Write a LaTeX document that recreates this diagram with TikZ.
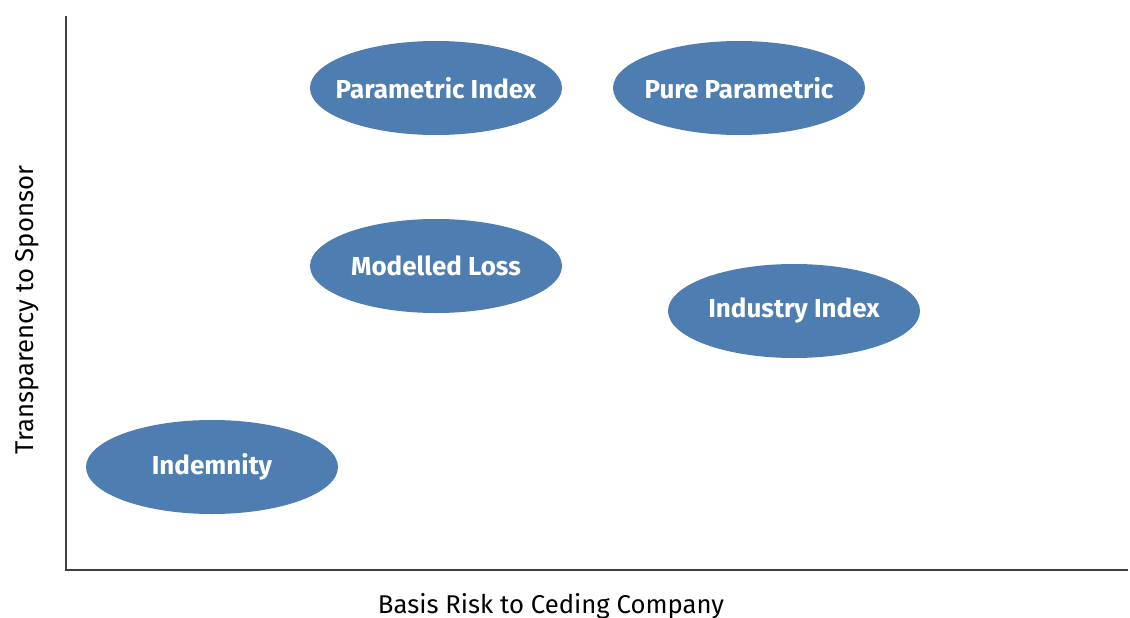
\documentclass[tikz,border=0pt]{standalone}
\usepackage{fontspec}
\setmainfont{Fira Sans}
\usetikzlibrary{shapes.geometric}
\definecolor{ovalblue}{HTML}{4E7EB1}
\definecolor{axisgray}{HTML}{404040}
\begin{document}
\begin{tikzpicture}[x=1pt,y=-1pt,
  oval/.style={ellipse, fill=ovalblue, draw=none, minimum width=252pt, minimum height=94pt,
    inner xsep=-16pt, inner ysep=0pt,
    text=white, font=\fontsize{26}{30}\selectfont\bfseries},
  axislabel/.style={font=\fontsize{25.7}{30}\selectfont, text=black, inner sep=0pt}]
\useasboundingbox (0,0) rectangle (1130,618);
\coordinate (top) at (66,16);
\coordinate (origin) at (66,570);
\coordinate (right) at (1128,570);
\draw[axisgray, line width=1.2pt] (top) -- (origin) -- (right);
\node[oval] (pindex) at (436,88) {Parametric Index};
\node[oval] (pure) at (739,88) {Pure Parametric};
\node[oval] (modelled) at (436,266) {Modelled Loss};
\node[oval] (industry) at (794,311) {Industry Index};
\node[oval] (indemnity) at (212,467) {Indemnity};
\node[axislabel, anchor=base] (xlab) at (551,613) {Basis Risk to Ceding Company};
\node[axislabel, anchor=base, rotate=90] (ylab) at (33,310) {Transparency to Sponsor};
\end{tikzpicture}
\end{document}
